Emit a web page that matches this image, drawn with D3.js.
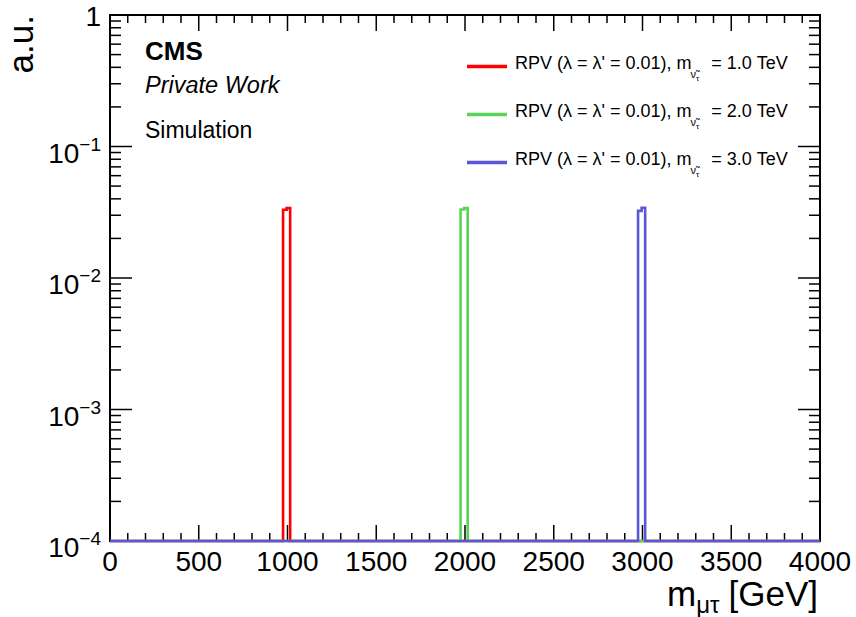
<html>
<head>
<meta charset="utf-8">
<title>m_mutau RPV signal</title>
<script src="https://cdn.jsdelivr.net/npm/d3@7"></script>
<style>
  body { margin: 0; background: #fff; }
  text { font-family: "Liberation Sans", Arial, Helvetica, sans-serif; fill: #000; }
</style>
</head>
<body>
<svg id="chart" width="856" height="617"></svg>
<script>
// signal samples
var sampleMass = ["1.0", "2.0", "3.0"];
var sampleColor = ["#ff0000", "#58d458", "#5a56d8"];
// non-empty bins of each histogram (GeV edges) and contents
var binEdges = [[975, 995, 1015], [1975, 1995, 2015], [2975, 2995, 3015]];
var binValues = [[0.0330, 0.0340], [0.0332, 0.0340], [0.0324, 0.0342]];

var xTicks = [0, 500, 1000, 1500, 2000, 2500, 3000, 3500, 4000];
var yDecades = [1e-4, 1e-3, 1e-2, 1e-1, 1];
var yExp = [-4, -3, -2, -1, 0];

var svg = d3.select("#chart"),
    margin = {top: 15, right: 36, bottom: 76, left: 110},
    width = +svg.attr("width") - margin.left - margin.right,
    height = +svg.attr("height") - margin.top - margin.bottom;

var x = d3.scaleLinear().domain([0, 4000]).range([margin.left, margin.left + width]);
var y = d3.scaleLog().domain([1e-4, 1]).range([margin.top + height, margin.top]);
var x0 = margin.left, x1 = margin.left + width, y0 = margin.top + height, y1 = margin.top;

svg.append("rect").attr("width", 856).attr("height", 617).attr("fill", "#fff");

// minor ticks
var xMinor = d3.range(0, 4001, 100);
var yMinor = [];
yDecades.slice(0, 4).forEach(function(d) {
  for (var k = 2; k <= 9; k++) yMinor.push(d * k);
});

var ticks = svg.append("g").attr("stroke", "#000").attr("stroke-width", 1.5);
xMinor.forEach(function(v) {
  var len = (v % 500 === 0) ? 16 : 8;
  ticks.append("line").attr("x1", x(v)).attr("x2", x(v)).attr("y1", y0).attr("y2", y0 - len);
  ticks.append("line").attr("x1", x(v)).attr("x2", x(v)).attr("y1", y1).attr("y2", y1 + len);
});
yDecades.forEach(function(v) {
  ticks.append("line").attr("x1", x0).attr("x2", x0 + 22).attr("y1", y(v)).attr("y2", y(v));
  ticks.append("line").attr("x1", x1).attr("x2", x1 - 22).attr("y1", y(v)).attr("y2", y(v));
});
yMinor.forEach(function(v) {
  ticks.append("line").attr("x1", x0).attr("x2", x0 + 11).attr("y1", y(v)).attr("y2", y(v));
  ticks.append("line").attr("x1", x1).attr("x2", x1 - 11).attr("y1", y(v)).attr("y2", y(v));
});

// frame
svg.append("rect")
  .attr("x", x0).attr("y", y1).attr("width", width).attr("height", height)
  .attr("fill", "none").attr("stroke", "#000").attr("stroke-width", 2);

// histograms
var line = d3.line()
  .x(function(d) { return x(d[0]); })
  .y(function(d) { return d[1] === 0 ? y0 : y(d[1]); });

binEdges.forEach(function(e, i) {
  var v = binValues[i];
  var pts = [[0, 0], [e[0], 0], [e[0], v[0]], [e[1], v[0]], [e[1], v[1]], [e[2], v[1]], [e[2], 0], [4000, 0]];
  svg.append("path")
    .attr("d", line(pts))
    .attr("fill", "none")
    .attr("stroke", sampleColor[i])
    .attr("stroke-width", 2.6);
});

// x labels
svg.append("g").selectAll("text").data(xTicks).enter().append("text")
  .attr("x", function(d) { return x(d); })
  .attr("y", 571)
  .attr("text-anchor", "middle")
  .attr("font-size", 28)
  .text(function(d) { return d; });

// y labels
yDecades.forEach(function(v, i) {
  var t = svg.append("text")
    .attr("x", 101)
    .attr("text-anchor", "end")
    .attr("font-size", 28);
  if (yExp[i] === 0) {
    t.attr("y", y(v) + 11).text("1");
  } else {
    t.attr("y", y(v) + 16);
    t.append("tspan").text("10");
    t.append("tspan").attr("font-size", 19).attr("dy", -12).text("\u2212" + (-yExp[i]));
  }
});

// axis titles
var xt = svg.append("text")
  .attr("x", 818).attr("y", 606)
  .attr("text-anchor", "end")
  .attr("font-size", 35);
xt.append("tspan").text("m");
xt.append("tspan").attr("font-size", 24).attr("dy", 7).text("\u03bc\u03c4");
xt.append("tspan").attr("dy", -7).attr("dx", 9).text("[GeV]");

svg.append("text")
  .attr("transform", "translate(33,15) rotate(-90)")
  .attr("text-anchor", "end")
  .attr("font-size", 35)
  .text("a.u.");

// CMS labels
svg.append("text").attr("x", 145).attr("y", 60).attr("font-size", 26).attr("font-weight", "bold").text("CMS");
svg.append("text").attr("x", 145).attr("y", 93).attr("font-size", 23.5).attr("font-style", "italic").text("Private Work");
svg.append("text").attr("x", 145).attr("y", 138).attr("font-size", 23).text("Simulation");

// legend
sampleMass.forEach(function(m, i) {
  var by = 69 + i * 48;
  svg.append("line")
    .attr("x1", 467).attr("x2", 507)
    .attr("y1", by - 2.5).attr("y2", by - 2.5)
    .attr("stroke", sampleColor[i]).attr("stroke-width", 3.3);
  var t = svg.append("text").attr("x", 515).attr("y", by).attr("font-size", 18);
  t.append("tspan").text("RPV (\u03bb = \u03bb' = 0.01), m");
  t.append("tspan").attr("font-size", 11).attr("dy", 9).attr("dx", -1).text("\u03bd\u0303");
  t.append("tspan").attr("font-size", 8).attr("dy", 3).text("\u03c4");
  t.append("tspan").attr("dy", -12).attr("dx", 12).text("= " + m + " TeV");
});
</script>
</body>
</html>
